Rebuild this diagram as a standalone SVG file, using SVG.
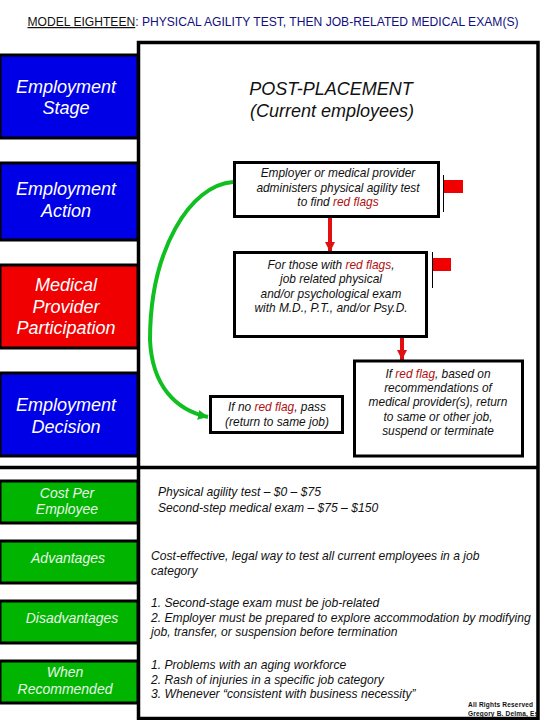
<svg xmlns="http://www.w3.org/2000/svg" width="540" height="720" viewBox="0 0 540 720">
<style>
text{font-family:"Liberation Sans",Arial,sans-serif;font-style:italic;text-anchor:middle;fill:#111}
.box{fill:#fff;stroke:#000;stroke-width:3}
.lab{stroke:#000;stroke-width:3}
.blue{fill:#0000e6}.red{fill:#f00000}.green{fill:#00b400}
.big{font-size:18px;fill:#fff}
.gl{font-size:14px;fill:#e8f5e8}
.b{font-size:11.900px}
.l{font-size:12.120px;text-anchor:start}
.r{fill:#b01010}
.flag{fill:#f00000}
.pole{stroke:#000;stroke-width:1}
.c{font-style:normal;text-anchor:start;font-size:6.500px;font-weight:bold;letter-spacing:.2px}
</style>
<defs>
<marker id="ar" markerUnits="userSpaceOnUse" markerWidth="12" markerHeight="12" refX="10" refY="5" orient="auto"><path d="M0 0L10 5L0 10z" fill="#e01010"/></marker>
<marker id="ag" markerUnits="userSpaceOnUse" markerWidth="12" markerHeight="12" refX="10" refY="5" orient="auto"><path d="M0 0L10 5L0 10z" fill="#10b820"/></marker>
</defs>
<text x="273" y="26" style="font-size:12.100px;font-style:normal;fill:#101080"><tspan fill="#111" text-decoration="underline">MODEL EIGHTEEN</tspan>: PHYSICAL AGILITY TEST, THEN JOB-RELATED MEDICAL EXAM(S)</text>
<g id="frame"><rect x="138.500" y="42.500" width="399.500" height="676" fill="#fff" stroke="#000" stroke-width="3.500"/><path d="M0 467.500H538" stroke="#000" stroke-width="3.500"/></g>
<g id="stage"><rect class="lab blue" x="0" y="55" width="138" height="83"/><text class="big" x="66" y="93">Employment</text><text class="big" x="66" y="114">Stage</text></g>
<g id="action"><rect class="lab blue" x="0" y="163" width="138" height="77"/><text class="big" x="66" y="195">Employment</text><text class="big" x="66" y="217">Action</text></g>
<g id="medical"><rect class="lab red" x="0" y="265" width="138" height="83"/><text class="big" x="66" y="291">Medical</text><text class="big" x="66" y="313">Provider</text><text class="big" x="66" y="334">Participation</text></g>
<g id="decision"><rect class="lab blue" x="0" y="373" width="138" height="83"/><text class="big" x="66" y="411">Employment</text><text class="big" x="66" y="433">Decision</text></g>
<g id="cost"><rect class="lab green" x="0" y="481" width="138" height="42"/><text class="gl" x="67" y="498">Cost Per</text><text class="gl" x="67" y="514">Employee</text></g>
<g id="advantages"><rect class="lab green" x="0" y="541" width="138" height="42"/><text class="gl" x="68" y="563">Advantages</text></g>
<g id="disadvantages"><rect class="lab green" x="0" y="601" width="138" height="42"/><text class="gl" x="72" y="623">Disadvantages</text></g>
<g id="when"><rect class="lab green" x="0" y="661" width="138" height="42"/><text class="gl" x="65" y="677">When</text><text class="gl" x="65" y="694">Recommended</text></g>
<g id="heading"><text x="331" y="95" style="font-size:18px">POST-PLACEMENT</text><text x="332" y="117" style="font-size:18px">(Current employees)</text></g>
<g id="connectors" fill="none">
<path d="M233 182C190 185 150 250 150 340C152 385 175 410 208 417" stroke="#10c020" stroke-width="4" marker-end="url(#ag)"/>
<path d="M330 217V252" stroke="#e01010" stroke-width="4" marker-end="url(#ar)"/>
<path d="M402 337V360" stroke="#e01010" stroke-width="4" marker-end="url(#ar)"/>
</g>
<g id="test"><rect class="box" x="234.500" y="162.500" width="204" height="54"/><text class="b" x="338" y="177">Employer or medical provider</text><text class="b" x="338" y="192">administers physical agility test</text><text class="b" x="338" y="206">to find <tspan class="r">red flags</tspan></text></g>
<g id="flag1"><path class="pole" d="M443.500 175V212"/><rect class="flag" x="444" y="180" width="19" height="13"/></g>
<g id="exam"><rect class="box" x="234.500" y="252.500" width="192" height="84"/><text class="b" x="331" y="269">For those with <tspan class="r">red flags</tspan>,</text><text class="b" x="331" y="283">job related physical</text><text class="b" x="331" y="298">and/or psychological exam</text><text class="b" x="331" y="312">with M.D., P.T., and/or Psy.D.</text></g>
<g id="flag2"><path class="pole" d="M432.500 252V288"/><rect class="flag" x="433" y="258" width="18" height="13"/></g>
<g id="pass"><rect class="box" x="210.500" y="396.500" width="132" height="36"/><text class="b" x="277" y="411">If no <tspan class="r">red flag</tspan>, pass</text><text class="b" x="277" y="426">(return to same job)</text></g>
<g id="outcome"><rect class="box" x="354.500" y="361" width="168" height="95"/><text class="b" x="438" y="378">If <tspan class="r">red flag</tspan>, based on</text><text class="b" x="438" y="392">recommendations of</text><text class="b" x="438" y="406">medical provider(s), return</text><text class="b" x="438" y="421">to same or other job,</text><text class="b" x="438" y="435">suspend or terminate</text></g>
<g id="details">
<text class="l" x="158" y="496">Physical agility test – $0 – $75</text>
<text class="l" x="158" y="512">Second-step medical exam – $75 – $150</text>
<text class="l" x="151" y="560">Cost-effective, legal way to test all current employees in a job</text>
<text class="l" x="151" y="575">category</text>
<text class="l" x="151" y="607">1.  Second-stage exam must be job-related</text>
<text class="l" x="151" y="622">2.  Employer must be prepared to explore accommodation by modifying</text>
<text class="l" x="151" y="636">job, transfer, or suspension before termination</text>
<text class="l" x="151" y="669">1. Problems with an aging workforce</text>
<text class="l" x="151" y="684">2. Rash of injuries in a specific job category</text>
<text class="l" x="151" y="698">3. Whenever “consistent with business necessity”</text>
</g>
<g id="copyright"><text class="c" x="468" y="706.500">All Rights Reserved</text><text class="c" x="468" y="715.500">Gregory B. Delma, Es</text></g>
</svg>
